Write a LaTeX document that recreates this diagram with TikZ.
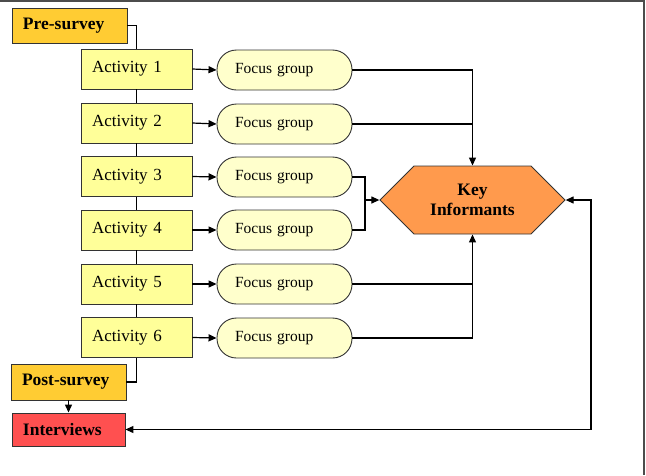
\documentclass[tikz,border=0pt]{standalone}
\usepackage{fontspec}
\setmainfont{Liberation Serif}
\usetikzlibrary{arrows.meta,shapes.symbols}
\definecolor{presurv}{HTML}{FFCC33}
\definecolor{actfill}{HTML}{FFFF99}
\definecolor{fgfill}{HTML}{FFFFCC}
\definecolor{keyfill}{HTML}{FF9A4D}
\definecolor{intfill}{HTML}{FF5050}
\tikzset{
  box/.style={draw=black!80, line width=0.9pt, rectangle, inner xsep=11pt, inner ysep=0pt, align=left},
  survbox/.style={box, fill=presurv, text width=115pt-22pt, minimum height=35pt, font=\fontsize{17.5}{20}\selectfont\bfseries},
  actbox/.style={box, fill=actfill, text width=111pt-22pt, minimum height=40pt, font=\fontsize{17}{20}\selectfont},
  fgbox/.style={draw=black!80, line width=0.9pt, rectangle, rounded corners=19.5pt, fill=fgfill, inner xsep=18pt, inner ysep=0pt, text width=135pt-36pt, minimum height=40pt, align=left, font=\fontsize{15.5}{18}\selectfont},
  keybox/.style={draw=black!80, line width=0.9pt, signal, signal to=west and east, signal pointer angle=90, fill=keyfill, minimum width=185pt, minimum height=68pt, inner sep=0pt, align=center, font=\fontsize{17.5}{20}\selectfont\bfseries},
  conn/.style={draw=black, line width=1.2pt},
  arr/.style={conn, -{Triangle[length=8pt,width=7pt]}},
  darr/.style={conn, {Triangle[length=8pt,width=7pt]}-{Triangle[length=8pt,width=7pt]}},
  frame/.style={draw=black!70, line width=1.6pt}
}
\begin{document}
\begin{tikzpicture}[x=1pt,y=-1pt]
\useasboundingbox (0,0) rectangle (646,475);
\coordinate (fa) at (0,1);
\coordinate (fb) at (644,1);
\coordinate (fc) at (644,475);
\draw[frame] (fa) -- (fb) -- (fc);

\node[survbox] (pre) at (69.5,25.5) {Pre-survey};
\node[actbox] (a1) at (136.5,69) {Activity 1};
\node[actbox] (a2) at (136.5,123) {Activity 2};
\node[actbox] (a3) at (136.5,176.5) {Activity 3};
\node[actbox] (a4) at (136.5,230) {Activity 4};
\node[actbox] (a5) at (136.5,284) {Activity 5};
\node[actbox] (a6) at (136.5,337.5) {Activity 6};
\node[survbox, minimum height=36pt] (post) at (68.5,382) {Post-survey};
\node[survbox, fill=intfill, minimum height=33pt, text width=113pt-22pt] (iv) at (68.5,429.5) {Interviews};

\node[fgbox] (f1) at (284.5,70) {Focus group};
\node[fgbox] (f2) at (284.5,124) {Focus group};
\node[fgbox] (f3) at (284.5,177) {Focus group};
\node[fgbox] (f4) at (284.5,230) {Focus group};
\node[fgbox] (f5) at (284.5,284) {Focus group};
\node[fgbox] (f6) at (284.5,338) {Focus group};

\node[keybox] (key) at (472.5,200) {Key\\Informants};

\coordinate (j3) at (365,177);
\coordinate (j4) at (365,230);
\coordinate (j34) at (365,200);
\coordinate (r1) at (591,200);

% survey chain
\draw[conn] (pre.east) -| (a1.north);
\draw[conn] (a1.south) -- (a2.north);
\draw[conn] (a2.south) -- (a3.north);
\draw[conn] (a3.south) -- (a4.north);
\draw[conn] (a4.south) -- (a5.north);
\draw[conn] (a5.south) -- (a6.north);
\draw[conn] (a6.south) |- (post.east);
\draw[arr] (post.south) -- (iv.north);

% activities to focus groups
\draw[arr] (a1.east) -- (f1.west);
\draw[arr] (a2.east) -- (f2.west);
\draw[arr] (a3.east) -- (f3.west);
\draw[arr] (a4.east) -- (f4.west);
\draw[arr] (a5.east) -- (f5.west);
\draw[arr] (a6.east) -- (f6.west);

% focus groups to key informants
\draw[arr] (f1.east) -| (key.north);
\draw[conn] (f2.east) -- (f2.east -| key.north);
\draw[conn] (f3.east) -- (j3) -- (j4) -- (f4.east);
\draw[arr] (j34) -- (key.west);
\draw[arr] (f6.east) -| (key.south);
\draw[conn] (f5.east) -- (f5.east -| key.south);

% key informants <-> interviews
\draw[darr] (key.east) -- (r1) |- (iv.east);
\end{tikzpicture}
\end{document}
